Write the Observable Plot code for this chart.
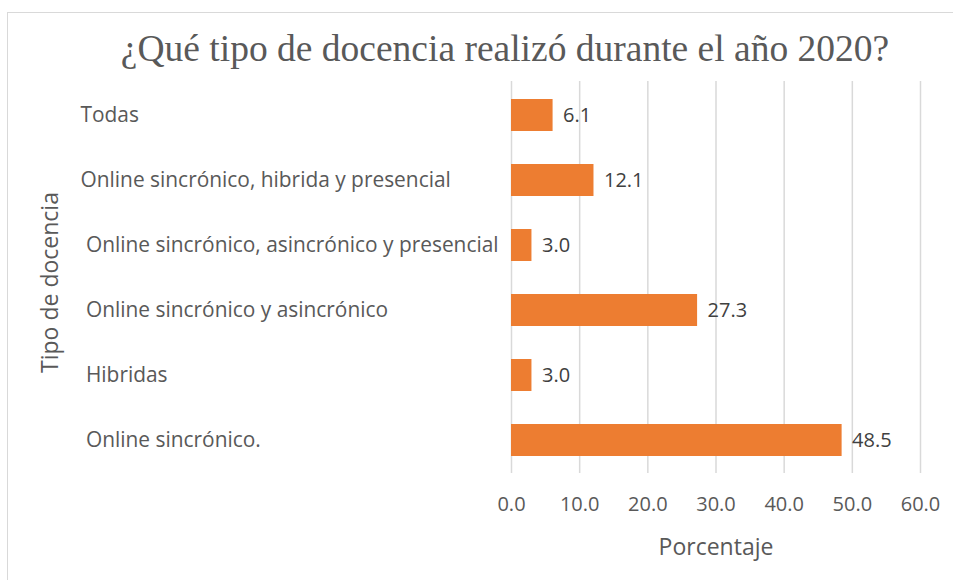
<!DOCTYPE html>
<html>
<head>
<meta charset="utf-8">
<script src="https://cdn.jsdelivr.net/npm/d3@7"></script>
<script src="https://cdn.jsdelivr.net/npm/@observablehq/plot@0.6"></script>
<style>
  html, body { margin: 0; padding: 0; background: #fff; }
  #wrap { position: relative; width: 953px; height: 580px; overflow: hidden; }
  #frame { position: absolute; left: 7px; top: 12px; right: -10px; bottom: -10px;
           border-left: 1.5px solid #d9d9d9; border-top: 1.5px solid #d9d9d9; }
  #title { position: absolute; left: 0; width: 1010px; top: 26px; text-align: center;
           font-family: "Liberation Serif", "Times New Roman", serif; font-size: 37.5px; color: #595959;
           line-height: 1.2; }
  #chart { position: absolute; left: 0; top: 0; }
</style>
</head>
<body>
<div id="wrap">
  <div id="frame"></div>
  <div id="chart"></div>
  <div id="title">¿Qué tipo de docencia realizó durante el año 2020?</div>
</div>
<script>
const categories = [
  "Todas",
  "Online sincrónico, hibrida y presencial",
  "\u00a0Online sincrónico, asincrónico y presencial",
  "\u00a0Online sincrónico y asincrónico",
  "\u00a0Hibridas",
  "\u00a0Online sincrónico."
];
const values = [6.1, 12.1, 3.0, 27.3, 3.0, 48.5];
const xTicks = [0, 10, 20, 30, 40, 50, 60];
const xTitle = "Porcentaje";
const yTitle = "Tipo de docencia";

const data = categories.map((c, i) => ({tipo: c, valor: values[i]}));
const font = "'Open Sans', 'Noto Sans', sans-serif";

const chart = Plot.plot({
  width: 953,
  height: 580,
  marginTop: 81,
  marginBottom: 107,
  marginLeft: 511,
  marginRight: 33,
  style: {fontFamily: font, background: "transparent", overflow: "visible"},
  x: {domain: [0, 60]},
  y: {domain: categories, paddingInner: 0.51, paddingOuter: 0.255},
  marks: [
    Plot.gridX(xTicks, {stroke: "#d9d9d9", strokeOpacity: 1, strokeWidth: 1.5}),
    Plot.axisX({ticks: xTicks, tickFormat: d3.format(".1f"), tickSize: 0, tickPadding: 23,
                fontSize: 20, color: "#595959", label: null}),
    Plot.axisY({tickSize: 0, tickPadding: 0, textAnchor: "start", dx: -431,
                fontSize: 20.9, color: "#595959", label: null}),
    Plot.barX(data, {x: "valor", y: "tipo", fill: "#ed7d31"}),
    Plot.text(data, {x: "valor", y: "tipo", text: d => d3.format(".1f")(d.valor),
                     textAnchor: "start", dx: 10, fontSize: 20, fill: "#404040"}),
    Plot.text([xTitle], {frameAnchor: "bottom", text: d => d, lineAnchor: "middle", textAnchor: "middle",
                         dy: 74, fontSize: 23, fill: "#595959"}),
    Plot.text([yTitle], {frameAnchor: "left", text: d => d, textAnchor: "middle", lineAnchor: "middle",
                         rotate: -90, dx: -461, dy: 5, fontSize: 23, fill: "#595959"})
  ]
});
document.getElementById("chart").appendChild(chart);
</script>
</body>
</html>
